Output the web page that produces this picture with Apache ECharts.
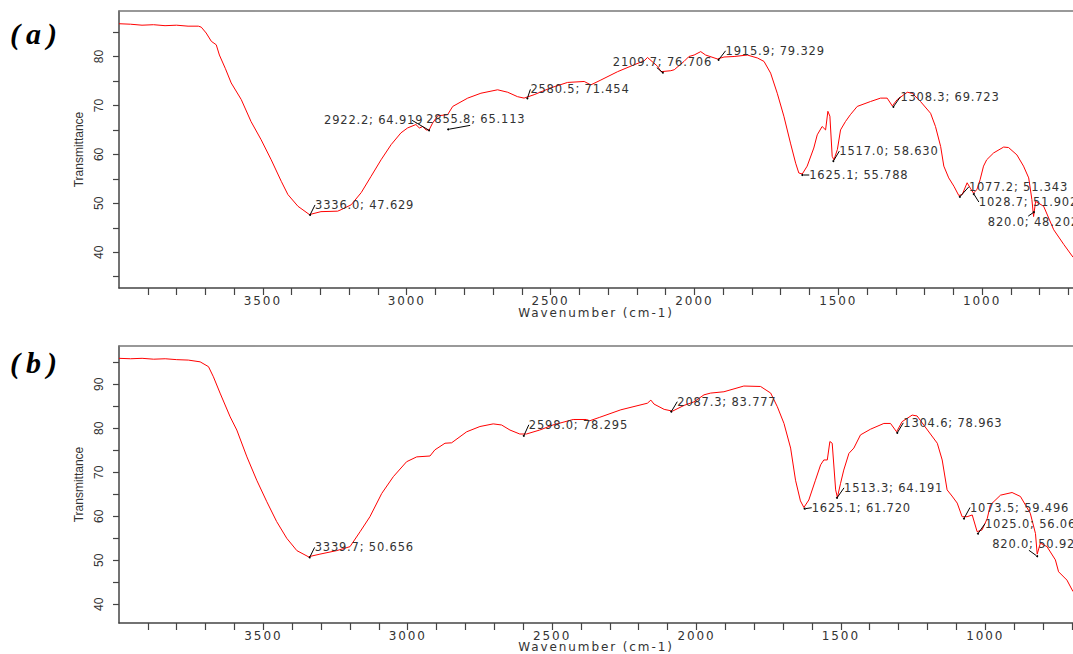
<!DOCTYPE html>
<html><head><meta charset="utf-8">
<script src="https://cdn.jsdelivr.net/npm/echarts@6/dist/echarts.min.js"></script>
<style>
html,body{margin:0;padding:0;background:#fff;}
#c{width:1073px;height:654px;}
#c [style*="DejaVu"]{letter-spacing:1.9px;}
#c [style*="11.5px"]{letter-spacing:0.8px;}
#c [style*="Liberation Serif"]{letter-spacing:6px;}
</style></head><body><div id="c"></div>
<script>
// ---- Panel (a) spectrum ----
const wavenumberA = [4000,3960,3920,3880,3840,3800,3760,3724,3714,3697,3679,3662,3651,3630,3610,3575,3541,3506,3471,3436,3413,3378,3338,3298,3240,3228,3193,3158,3124,3089,3054,3020,2997,2968,2956,2944,2933,2922,2910,2892,2858,2840,2788,2742,2684,2649,2615,2592,2557,2499,2441,2383,2360,2325,2267,2210,2175,2163,2128,2116,2082,2070,2036,2019,2001,1978,1961,1920,1897,1862,1816,1781,1758,1735,1712,1689,1666,1648,1637,1625,1608,1585,1573,1556,1544,1536,1529,1521,1515,1503,1492,1475,1458,1434,1388,1353,1330,1312,1295,1260,1243,1214,1179,1162,1144,1133,1116,1098,1081,1069,1052,1041,1030,1018,1007,995,984,960,925,908,879,856,838,827,821,814,786,751,716,684];
const transmittanceA = [86.7,86.6,86.4,86.5,86.3,86.4,86.2,86.2,86.0,84.8,83.1,82.4,80.3,77.5,74.6,71.2,66.7,63.0,58.9,54.5,51.8,49.4,47.7,48.3,48.4,48.7,49.7,52.2,55.5,58.9,62.0,64.4,65.4,66.1,65.4,65.7,65.0,65.0,66.4,67.9,68.1,69.8,71.5,72.5,73.2,72.7,71.8,71.5,72.2,73.6,74.7,74.9,74.2,75.2,76.9,78.3,79.1,79.8,78.0,76.9,77.1,77.3,79.0,80.0,80.3,81.0,80.3,79.5,79.9,80.0,80.3,79.7,79.0,76.6,72.5,67.8,62.3,58.2,56.2,56.0,57.6,61.3,64.0,65.7,65.0,68.8,67.8,59.6,58.9,61.0,65.0,66.7,68.1,69.8,70.8,71.5,71.5,69.9,71.2,72.7,72.5,70.8,68.4,65.7,61.6,57.6,55.2,53.5,51.6,51.8,54.2,53.1,52.1,52.8,54.8,57.6,58.9,60.3,61.5,61.4,59.9,57.6,55.2,50.8,47.3,50.4,49.4,44.6,41.6,39.0];

// ---- Panel (b) spectrum ----
const wavenumberB = [4000,3960,3920,3880,3840,3800,3760,3719,3690,3673,3650,3615,3592,3557,3523,3488,3454,3419,3384,3344,3304,3246,3200,3165,3131,3090,3050,3004,2969,2923,2906,2871,2848,2796,2750,2704,2675,2646,2612,2589,2543,2497,2427,2381,2370,2335,2262,2170,2158,2147,2112,2083,2043,2009,1974,1951,1905,1836,1778,1743,1720,1697,1674,1657,1640,1628,1611,1588,1570,1559,1547,1538,1530,1518,1512,1501,1490,1472,1455,1432,1397,1351,1328,1307,1288,1253,1236,1213,1166,1149,1132,1115,1097,1080,1063,1045,1028,1011,993,982,947,907,878,844,826,820,809,786,757,746,717,696];
const transmittanceB = [95.9,95.8,95.9,95.7,95.8,95.6,95.5,95.1,94.0,91.7,88.0,82.6,79.6,73.5,68.2,63.3,58.8,55.0,52.2,50.8,51.4,52.2,53.1,56.5,59.9,65.2,69.0,72.4,73.5,73.7,75.1,76.6,76.7,79.2,80.4,81.0,80.75,79.6,78.7,78.7,79.6,80.75,82.0,82.0,81.7,82.5,84.2,85.7,86.4,85.5,84.3,83.9,85.2,86.0,87.6,88.0,88.3,89.6,89.5,88.0,84.9,81.1,75.5,68.2,63.5,62.0,63.7,68.2,71.7,72.8,72.8,77.0,76.6,66.0,64.3,67.5,70.5,74.3,75.5,78.5,79.8,81.1,81.1,79.2,81.5,83.0,82.8,80.75,76.6,72.8,66.0,64.6,63.0,59.9,59.9,60.3,56.5,56.9,59.5,62.6,64.8,65.4,64.5,60.7,56.1,51.4,53.9,53.1,50.1,47.4,45.5,42.9];

// ---- Peak annotations ----
const peaksA = [[3336.0,47.629],[2922.2,64.919],[2855.8,65.113],[2580.5,71.454],[2109.7,76.706],[1915.9,79.329],[1308.3,69.723],[1517.0,58.630],[1625.1,55.788],[1077.2,51.343],[1028.7,51.902],[820.0,48.202]];
const peakTextA = ['3336.0; 47.629','2922.2; 64.919','2855.8; 65.113','2580.5; 71.454','2109.7; 76.706','1915.9; 79.329','1308.3; 69.723','1517.0; 58.630','1625.1; 55.788','1077.2; 51.343','1028.7; 51.902','820.0; 48.202'];
const peaksB = [[3339.7,50.656],[2598.0,78.295],[2087.3,83.777],[1304.6,78.963],[1513.3,64.191],[1625.1,61.720],[1073.5,59.496],[1025.0,56.06],[820.0,50.92]];
const peakTextB = ['3339.7; 50.656','2598.0; 78.295','2087.3; 83.777','1304.6; 78.963','1513.3; 64.191','1625.1; 61.720','1073.5; 59.496','1025.0; 56.06','820.0; 50.92'];

// ---- Tick labels ----
const xTickLabels = [3500,3000,2500,2000,1500,1000];
const yTickLabelsA = [40,50,60,70,80];
const yTickLabelsB = [40,50,60,70,80,90];

// label offsets (px) – layout only
const offsetsA = [[5,-10],[-105,-10],[-22,-10],[3,-9],[-50,-11],[7,-9],[7,-10],[6,-10],[7,0],[9,-10],[5,8],[-46,10]];
const offsetsB = [[5,-10],[5,-11],[6,-10],[6,-10],[7,-10],[7,-1],[6,-11],[7,-10],[-45,-12]];

const xMinorTicks = []; for (let v = 700; v < 4000; v += 100) xMinorTicks.push(v);
const yMinorA = []; for (let v = 35; v <= 85; v += 5) yMinorA.push(v);
const yMinorB = []; for (let v = 40; v <= 95; v += 5) yMinorB.push(v);

const HFONT = '"DejaVu Sans"';
const VFONT = '"Liberation Sans"';
const TXT = '#333';
const AX = '#444';

function xAxisMain(grid, min, gap) {
  return {
    type: 'value', gridIndex: grid, inverse: true, min: min, max: 4000,
    axisLine: { show: true, lineStyle: { color: AX, width: 1.5 } },
    axisTick: { show: true, customValues: xMinorTicks, length: 7, lineStyle: { color: AX, width: 1.2 } },
    axisLabel: { customValues: xTickLabels, formatter: v => String(v), margin: 7, fontFamily: HFONT, fontSize: 12, color: TXT },
    splitLine: { show: false },
    name: 'Wavenumber (cm-1)', nameLocation: 'middle', nameGap: gap, nameMoveOverlap: false,
    nameTextStyle: { fontFamily: HFONT, fontSize: 12, color: TXT }
  };
}
function xAxisTop(grid, min) {
  return {
    type: 'value', gridIndex: grid, inverse: true, min: min, max: 4000, position: 'top',
    axisLine: { show: true, lineStyle: { color: '#777', width: 1.5 } },
    axisTick: { show: false }, axisLabel: { show: false }, splitLine: { show: false }
  };
}
function yAxis(grid, min, max, ticks, labels) {
  return {
    type: 'value', gridIndex: grid, min: min, max: max,
    axisLine: { show: true, lineStyle: { color: AX, width: 1.5 } },
    axisTick: { show: true, customValues: ticks, length: 6, lineStyle: { color: AX, width: 1.2 } },
    axisLabel: { customValues: labels, rotate: 90, margin: 14, fontFamily: VFONT, fontSize: 12, color: TXT },
    splitLine: { show: false },
    name: 'Transmittance', nameLocation: 'middle', nameGap: 25,
    nameTextStyle: { fontFamily: VFONT, fontSize: 12, color: TXT }
  };
}
function peakSeries(idx, peaks, texts, offsets) {
  return {
    type: 'scatter', xAxisIndex: idx, yAxisIndex: idx, data: peaks,
    symbolSize: 2, itemStyle: { color: '#000', opacity: 1 }, z: 5, silent: true,
    label: {
      show: true, position: 'inside', formatter: p => texts[p.dataIndex],
      fontFamily: HFONT, fontSize: 11.5, color: '#333', opacity: 1
    },
    labelLayout: p => {
      const o = offsets[p.dataIndex];
      return { x: p.rect.x + p.rect.width / 2 + o[0], y: p.rect.y + p.rect.height / 2 + o[1], align: 'left', verticalAlign: 'middle' };
    },
    labelLine: { show: true, lineStyle: { color: '#000', width: 1, opacity: 1 } }
  };
}

const chart = echarts.init(document.getElementById('c'), null, { renderer: 'svg', width: 1073, height: 654 });
chart.setOption({
  animation: false,
  backgroundColor: '#fff',
  grid: [
    { left: 119, right: 0, top: 11, height: 277, containLabel: false, outerBoundsMode: 'none' },
    { left: 119, right: 0, top: 346, height: 277, containLabel: false, outerBoundsMode: 'none' }
  ],
  xAxis: [xAxisMain(0, 684, 19), xAxisMain(1, 696, 18), xAxisTop(0, 684), xAxisTop(1, 696)],
  yAxis: [yAxis(0, 32.7, 89.3, yMinorA, yTickLabelsA), yAxis(1, 35.75, 98.7, yMinorB, yTickLabelsB)],
  graphic: [
    { type: 'text', x: 10, y: 33, style: { text: '(a)', fontFamily: '"Liberation Serif"', fontSize: 30, fontWeight: 'bold', fontStyle: 'italic', fill: '#000', align: 'left', verticalAlign: 'middle' } },
    { type: 'text', x: 10, y: 362, style: { text: '(b)', fontFamily: '"Liberation Serif"', fontSize: 30, fontWeight: 'bold', fontStyle: 'italic', fill: '#000', align: 'left', verticalAlign: 'middle' } }
  ],
  series: [
    { type: 'line', xAxisIndex: 0, yAxisIndex: 0, data: wavenumberA.map((w, i) => [w, transmittanceA[i]]),
      showSymbol: false, lineStyle: { color: '#ff0000', width: 1 }, silent: true },
    { type: 'line', xAxisIndex: 1, yAxisIndex: 1, data: wavenumberB.map((w, i) => [w, transmittanceB[i]]),
      showSymbol: false, lineStyle: { color: '#ff0000', width: 1 }, silent: true },
    peakSeries(0, peaksA, peakTextA, offsetsA),
    peakSeries(1, peaksB, peakTextB, offsetsB)
  ]
});
</script></body></html>
